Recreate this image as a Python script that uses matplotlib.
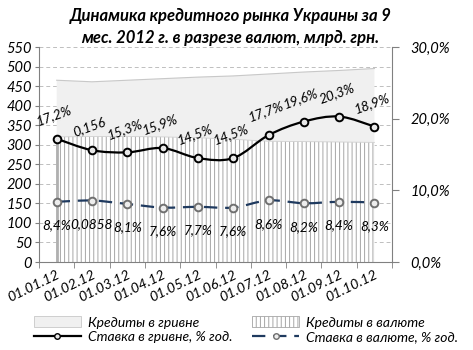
import numpy as np
import matplotlib
matplotlib.use("Agg")
import matplotlib.pyplot as plt
from matplotlib.path import Path
from matplotlib.patches import PathPatch, Patch
from matplotlib.lines import Line2D

dates = ["01.01.12", "01.02.12", "01.03.12", "01.04.12", "01.05.12",
         "01.06.12", "01.07.12", "01.08.12", "01.09.12", "01.10.12"]
loans_uah = [465, 461, 465, 469, 473, 476, 481, 486, 490, 495]
loans_fx = [320, 321, 321, 320, 318, 314, 309, 308, 307, 306]
rate_uah = [17.2, 15.6, 15.3, 15.9, 14.5, 14.5, 17.7, 19.6, 20.3, 18.9]
rate_fx = [8.4, 8.58, 8.1, 7.6, 7.7, 7.6, 8.6, 8.2, 8.4, 8.3]
labels_uah = ["17,2%", "0,156", "15,3%", "15,9%", "14,5%", "14,5%",
              "17,7%", "19,6%", "20,3%", "18,9%"]
labels_fx = ["8,4%", "0,0858", "8,1%", "7,6%", "7,7%", "7,6%",
             "8,6%", "8,2%", "8,4%", "8,3%"]

FONT = "Lato"
plt.rcParams["font.family"] = FONT
plt.rcParams["font.style"] = "italic"
plt.rcParams["hatch.linewidth"] = 0.7

NAVY = "#1F3A5F"
GRID = "#BFBFBF"


def smooth_path(xs, ys):
    # bezier path like excel's smoothed line
    pts = np.column_stack([xs, ys]).astype(float)
    verts = [pts[0]]
    codes = [Path.MOVETO]
    n = len(pts)
    for i in range(n - 1):
        p0 = pts[i - 1] if i > 0 else pts[i]
        p1 = pts[i]
        p2 = pts[i + 1]
        p3 = pts[i + 2] if i + 2 < n else pts[i + 1]
        c1 = p1 + (p2 - p0) / 6
        c2 = p2 - (p3 - p1) / 6
        verts += [c1, c2, p2]
        codes += [Path.CURVE4] * 3
    return Path(verts, codes)


fig = plt.figure(figsize=(4.73, 3.5), dpi=100)
ax = fig.add_axes([0.0825, 0.2514, 0.7465, 0.6143])
ax2 = ax.twinx()
ax.set_zorder(1)
ax2.set_zorder(2)
ax2.patch.set_visible(False)

x = np.arange(len(dates))

ax.fill_between(x, 0, loans_uah, facecolor="#F0F0F0", edgecolor="none")
ax.plot(x, loans_uah, color="#C8C8C8", lw=0.8)
ax.fill_between(x, 0, loans_fx, facecolor="white", edgecolor="#A6A6A6",
                hatch="||||", lw=0)
ax.plot([x[0], x[0]], [0, loans_fx[0]], color="#B0B0B0", lw=2)
ax.plot(x, loans_fx, color="#D0D0D0", lw=0.6)

ax.set_xlim(-0.5, len(dates) - 0.5)
ax.set_ylim(0, 550)
ax.set_yticks(np.arange(0, 551, 50))
ax.yaxis.grid(True, color=GRID, ls=(0, (4, 3)), lw=0.7)
ax.set_axisbelow(True)
ax.set_xticks(x)
ax.set_xticklabels(dates, rotation=26, ha="right", rotation_mode="anchor",
                   fontsize=10.2)
ax.set_xticks(np.arange(-0.5, len(dates)), minor=True)
ax.tick_params(axis="x", which="major", length=0, pad=5)
ax.tick_params(axis="x", which="minor", length=4, color="#808080")
ax.tick_params(axis="y", length=3, color="#808080", labelsize=10.5, pad=2)

for s in ["top", "right"]:
    ax.spines[s].set_visible(False)
for s in ["left", "bottom"]:
    ax.spines[s].set_color("#808080")

ax2.set_ylim(0, 30)
ax2.set_yticks([0, 10, 20, 30])
ax2.set_yticklabels(["0,0%", "10,0%", "20,0%", "30,0%"])
ax2.tick_params(axis="y", length=5, color="#808080", labelsize=10.5, pad=8)
for s in ["top", "left", "bottom"]:
    ax2.spines[s].set_visible(False)
ax2.spines["right"].set_color("#808080")

ax2.add_patch(PathPatch(smooth_path(x, rate_uah), fill=False,
                        edgecolor="black", lw=1.6))
ax2.plot(x, rate_uah, ls="none", marker="o", ms=5.5, mfc="#E8E8E8",
         mec="black", mew=1.4)
ax2.add_patch(PathPatch(smooth_path(x, rate_fx), fill=False,
                        edgecolor=NAVY, lw=1.6, ls=(0, (6, 3.5))))
ax2.plot(x, rate_fx, ls="none", marker="o", ms=5.5, mfc="#EDEDED",
         mec="#707070", mew=1.4)

for xi, yi, t in zip(x, rate_uah, labels_uah):
    ax2.annotate(t, (xi, yi), xytext=(-2, 17), textcoords="offset points",
                 ha="center", va="center", rotation=20, fontsize=9.8)
for xi, yi, t in zip(x, rate_fx, labels_fx):
    ax2.annotate(t, (xi, yi), xytext=(0, -17), textcoords="offset points",
                 ha="center", va="center", fontsize=9.8)

fig.text(0.487, 0.955, "Динамика кредитного рынка Украины за 9",
         ha="center", va="center", fontsize=12, weight="bold")
fig.text(0.487, 0.892, "мес. 2012 г. в разрезе валют, млрд. грн.",
         ha="center", va="center", fontsize=12, weight="bold")

handles = [
    Patch(facecolor="#F0F0F0", edgecolor="#C8C8C8", lw=0.6),
    Line2D([], [], color="black", lw=1.6, marker="o", ms=4, mfc="#E8E8E8",
           mec="black"),
    Patch(facecolor="white", edgecolor="#A6A6A6", hatch="||||", lw=0.6),
    Line2D([], [], color=NAVY, lw=1.6, ls=(0, (6, 3.5)), marker="o", ms=4,
           mfc="#EDEDED", mec="#707070"),
]
names = ["Кредиты в гривне", "Ставка в гривне, % год.",
         "Кредиты в валюте", "Ставка в валюте, % год."]
fig.legend(handles, names, ncol=2, loc="lower left",
           bbox_to_anchor=(0.045, -0.015), frameon=False, fontsize=10,
           handlelength=3.4, handleheight=0.8, columnspacing=1.4,
           labelspacing=0.15, handletextpad=0.5)

fig.savefig("out.png", dpi=100)
